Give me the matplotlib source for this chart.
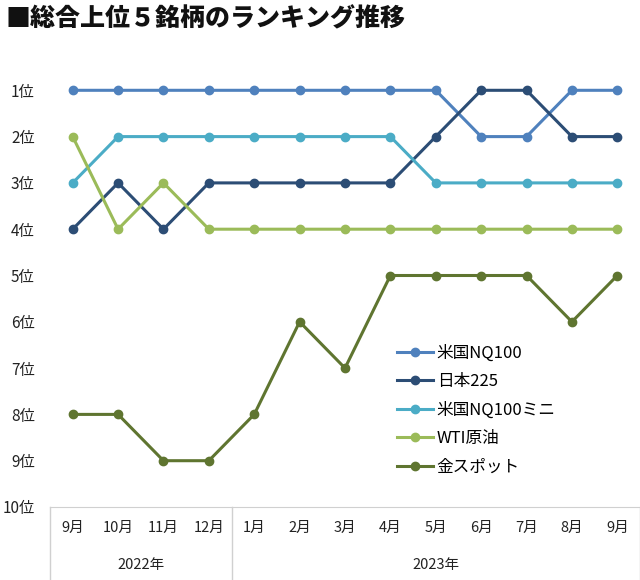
import matplotlib.pyplot as plt
from matplotlib.lines import Line2D

plt.rcParams['font.family'] = ['Noto Sans CJK JP', 'DejaVu Sans']

#------------- data ---------------#
months = ['9月', '10月', '11月', '12月', '1月', '2月', '3月', '4月', '5月', '6月', '7月', '8月', '9月']
years = ['2022年', '2023年']
year_span = [(0, 3), (4, 12)]
rank_labels = ['1位', '2位', '3位', '4位', '5位', '6位', '7位', '8位', '9位', '10位']

names = ['米国NQ100', '日本225', '米国NQ100ミニ', 'WTI原油', '金スポット']
nq100 = [1, 1, 1, 1, 1, 1, 1, 1, 1, 2, 2, 1, 1]
nikkei225 = [4, 3, 4, 3, 3, 3, 3, 3, 2, 1, 1, 2, 2]
nq100_mini = [3, 2, 2, 2, 2, 2, 2, 2, 3, 3, 3, 3, 3]
wti = [2, 4, 3, 4, 4, 4, 4, 4, 4, 4, 4, 4, 4]
gold = [8, 8, 9, 9, 8, 6, 7, 5, 5, 5, 5, 6, 5]
colors = ['#4f81bd', '#2c4d75', '#4bacc6', '#9bbb59', '#5f7530']
#------------ end data ------------#

fig = plt.figure(figsize=(6.4, 5.8), dpi=100)
ax = fig.add_axes([50/640, 1 - 507/580, 590/640, 463/580])

x = list(range(len(months)))
for name, vals, col in zip(names, [nq100, nikkei225, nq100_mini, wti, gold], colors):
    ax.plot(x, vals, color=col, lw=2.2, marker='o', ms=6, label=name)

ax.set_xlim(-0.5, len(months) - 0.5)
ax.set_ylim(10, 0)
ax.set_yticks(range(1, 11))
ax.set_yticklabels(rank_labels, fontsize=11, color='#222222')
ax.tick_params(axis='y', length=0, pad=11)
ax.set_xticks([])
for s in ['top', 'right', 'left']:
    ax.spines[s].set_visible(False)
ax.spines['bottom'].set_color('#d0d0d0')

# month / year category labels under the axis
for i, m in enumerate(months):
    ax.annotate(m, (i, 10), xytext=(0, -21), textcoords='offset pixels',
                ha='center', va='center', fontsize=10.5, color='#222222', annotation_clip=False)
for yr, (a, b) in zip(years, year_span):
    ax.annotate(yr, ((a + b) / 2, 10), xytext=(0, -58), textcoords='offset pixels',
                ha='center', va='center', fontsize=10.5, color='#222222', annotation_clip=False)

# group separators
trans = ax.get_xaxis_transform()
for xs in [-0.5, 3.5, len(months) - 0.5]:
    ax.add_line(Line2D([xs, xs], [0, -0.2], transform=trans, color='#d0d0d0', lw=1, clip_on=False))

ax.legend(loc='upper left', bbox_to_anchor=(390/640, 1 - 338/580), bbox_transform=fig.transFigure,
          frameon=False, fontsize=12, handlelength=2.2, handletextpad=0.2, labelspacing=0.68,
          borderaxespad=0)

fig.text(6/640, 1 - 18/580, '■総合上位５銘柄のランキング推移', fontsize=18, fontweight='heavy',
         ha='left', va='center', color='#111111')

fig.savefig('out.png', dpi=100)
